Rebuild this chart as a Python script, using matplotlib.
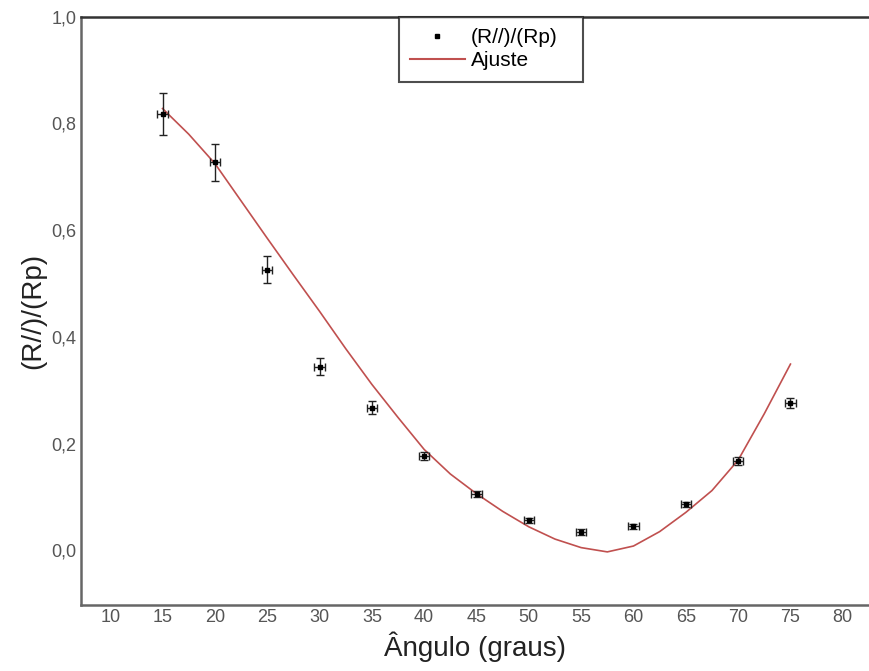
import matplotlib.pyplot as plt
import numpy as np
from matplotlib.lines import Line2D

plt.rcParams['font.family'] = ['Liberation Sans', 'DejaVu Sans']

# medidas
angulo = [15, 20, 25, 30, 35, 40, 45, 50, 55, 60, 65, 70, 75]
razao = [0.818, 0.727, 0.526, 0.344, 0.267, 0.177, 0.105, 0.056, 0.034, 0.045, 0.086, 0.167, 0.276]
erro_y = [0.040, 0.035, 0.025, 0.016, 0.012, 0.008, 0.006, 0.005, 0.005, 0.005, 0.005, 0.008, 0.010]
erro_x = [0.5] * 13

# curva do ajuste
ang_aj = [15, 17.5, 20, 22.5, 25, 27.5, 30, 32.5, 35, 37.5, 40, 42.5, 45, 47.5, 50,
          52.5, 55, 57.5, 60, 62.5, 65, 67.5, 70, 72.5, 75]
razao_aj = [0.828, 0.78, 0.725, 0.655, 0.585, 0.516, 0.448, 0.378, 0.311, 0.249, 0.189, 0.143,
            0.106, 0.073, 0.044, 0.021, 0.005, -0.003, 0.008, 0.035, 0.071, 0.112, 0.169, 0.256, 0.349]

fig = plt.figure(figsize=(8.7, 6.71), dpi=100)
ax = fig.add_axes([0.093, 0.098, 0.907, 0.877])

ax.plot(ang_aj, razao_aj, color='#c0504f', lw=1.2)
ax.errorbar(angulo, razao, yerr=erro_y, xerr=erro_x, fmt='s', ms=3.5, color='black',
            ecolor='#222222', elinewidth=1, capsize=3, capthick=1)

ax.set_xlim(7.2, 82.6)
ax.set_ylim(-0.103, 1.0)
ax.set_xticks(np.arange(10, 81, 5))
ax.set_yticks([0.0, 0.2, 0.4, 0.6, 0.8, 1.0])
ax.set_yticklabels(['0,0', '0,2', '0,4', '0,6', '0,8', '1,0'])
ax.tick_params(length=0, labelsize=13, labelcolor='#555555', pad=3)

for s in ['left', 'bottom']:
    ax.spines[s].set_color('#666666')
    ax.spines[s].set_linewidth(1.8)
ax.spines['top'].set_color('#333333')
ax.spines['top'].set_linewidth(1.8)
ax.spines['right'].set_visible(False)

ax.set_xlabel('Ângulo (graus)', fontsize=20, color='#222222', labelpad=4)
ax.set_ylabel('(R//)/(Rp)', fontsize=20, color='#222222', labelpad=4)

handles = [Line2D([], [], ls='none', marker='s', ms=2.5, color='black'),
           Line2D([], [], color='#c0504f', lw=1.5)]
leg = ax.legend(handles, ['(R//)/(Rp)', 'Ajuste'], loc='upper left',
                bbox_to_anchor=(0.403, 0.0, 0.233, 1.0), mode='expand', fontsize=15,
                frameon=True, fancybox=False, borderpad=0.55, labelspacing=0.2,
                handlelength=2.6, handletextpad=0.3, borderaxespad=0)
leg.get_frame().set_edgecolor('#222222')
leg.get_frame().set_linewidth(1.5)

fig.savefig('out.png', dpi=100)
